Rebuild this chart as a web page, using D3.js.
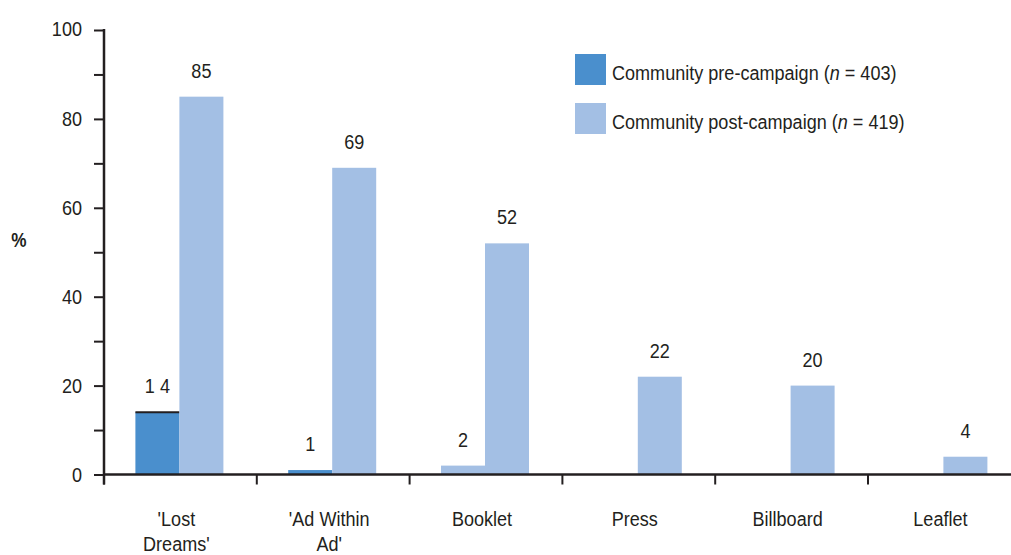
<!DOCTYPE html>
<html>
<head>
<meta charset="utf-8">
<script src="https://cdn.jsdelivr.net/npm/d3@7"></script>
<style>
  body { margin: 0; background: #fff; }
  text { font-family: "Liberation Sans", Arial, sans-serif; fill: #231f20; font-size: 21px; }
</style>
</head>
<body>
<div id="chart"></div>
<script>
// Chart data
var categories = ["'Lost\nDreams'", "'Ad Within\nAd'", "Booklet", "Press", "Billboard", "Leaflet"];
var preValues = [14, 1, 2, null, null, null];
var preLabels = ["1 4", "1", "2", "", "", ""];
var postValues = [85, 69, 52, 22, 20, 4];
var seriesNames = ["Community pre-campaign", "Community post-campaign"];
var seriesN = [403, 419];
var yTicks = [0, 20, 40, 60, 80, 100];

var svgWidth = 1011;
var svgHeight = 555;
var margin = { top: 30, left: 104 };
var bandWidth = 152.8;
var squeeze = 0.86; // condensed look for the typeface

var preColor = "#4a8fcd";
var postColor = "#a3bfe4";
var ink = "#231f20";

var svg = d3.select("#chart")
  .append("svg")
  .attr("width", svgWidth)
  .attr("height", svgHeight);

var x = d3.scaleBand()
  .domain(categories)
  .range([margin.left, margin.left + bandWidth * categories.length]);

var y = d3.scaleLinear()
  .domain([0, 100])
  .range([474.5, margin.top]);

var barW = 44;
function mid(c) { return x(c) + x.bandwidth() / 2 - 1; }
function narrow(px, py) { return `translate(${px}, ${py}) scale(${squeeze}, 1)`; }

// pre-campaign bars
var preData = categories.map((c, i) => ({ c: c, v: preValues[i], label: preLabels[i] }))
  .filter(d => d.v !== null);

svg.selectAll(".pre")
  .data(preData)
  .enter()
  .append("rect")
  .attr("class", "pre")
  .attr("x", d => mid(d.c) - barW)
  .attr("y", d => y(d.v))
  .attr("width", barW)
  .attr("height", d => y(0) - y(d.v))
  // booklet pre bar is drawn in the lighter shade in the original
  .attr("fill", d => d.c === "Booklet" ? postColor : preColor);

// black cap on the first bar
svg.append("line")
  .attr("x1", mid(categories[0]) - barW)
  .attr("x2", mid(categories[0]))
  .attr("y1", y(preValues[0]))
  .attr("y2", y(preValues[0]))
  .attr("stroke", ink)
  .attr("stroke-width", 2);

svg.selectAll(".preLabel")
  .data(preData)
  .enter()
  .append("text")
  .attr("transform", d => narrow(mid(d.c) - barW / 2, y(d.v) - 19))
  .attr("text-anchor", "middle")
  .text(d => d.label);

// post-campaign bars
var postData = categories.map((c, i) => ({ c: c, v: postValues[i] }));

svg.selectAll(".post")
  .data(postData)
  .enter()
  .append("rect")
  .attr("class", "post")
  .attr("x", d => mid(d.c))
  .attr("y", d => y(d.v))
  .attr("width", barW)
  .attr("height", d => y(0) - y(d.v))
  .attr("fill", postColor);

svg.selectAll(".postLabel")
  .data(postData)
  .enter()
  .append("text")
  .attr("transform", d => narrow(mid(d.c) + barW / 2, y(d.v) - 19))
  .attr("text-anchor", "middle")
  .text(d => d.v);

// y axis
var yAxis = svg.append("g")
  .attr("transform", `translate(${margin.left}, 0)`)
  .call(d3.axisLeft(y).tickValues(d3.range(0, 101, 10)).tickSize(10).tickSizeOuter(0)
    .tickFormat(d => yTicks.includes(d) ? d : ""));
yAxis.select(".domain")
  .attr("stroke", ink)
  .attr("stroke-width", 2.5)
  .attr("d", `M0,${y(100) - 1}V${y(0) + 10}`);
yAxis.selectAll(".tick line").attr("stroke", ink).attr("stroke-width", 2);
yAxis.selectAll(".tick text")
  .attr("x", null)
  .attr("dy", null)
  .attr("transform", narrow(-22, 7))
  .style("font-size", "21px")
  .style("font-family", "'Liberation Sans', Arial, sans-serif")
  .attr("fill", ink);
yAxis.selectAll(".tick").filter(d => d === 100).select("text")
  .attr("transform", narrow(-22, 5));

// x axis
var xAxisG = svg.append("g").attr("transform", `translate(0, ${y(0)})`);
xAxisG.append("line")
  .attr("x1", margin.left - 1)
  .attr("x2", svgWidth)
  .attr("stroke", ink)
  .attr("stroke-width", 2.5);
xAxisG.selectAll(".xtick")
  .data(categories)
  .enter()
  .append("line")
  .attr("x1", d => x(d))
  .attr("x2", d => x(d))
  .attr("y1", 0)
  .attr("y2", 10)
  .attr("stroke", ink)
  .attr("stroke-width", 2);

var xLabels = svg.selectAll(".xlabel")
  .data(categories)
  .enter()
  .append("text")
  .attr("text-anchor", "middle")
  .attr("transform", d => narrow(mid(d) - 3, 526));
xLabels.selectAll("tspan")
  .data(d => d.split("\n"))
  .enter()
  .append("tspan")
  .attr("x", 0)
  .attr("dy", (d, i) => i === 0 ? 0 : 25)
  .text(d => d);

// y label
svg.append("text")
  .attr("transform", narrow(19, 247))
  .attr("text-anchor", "middle")
  .style("font-size", "20px")
  .style("font-weight", "bold")
  .text("%");

// legend
var legend = svg.append("g").attr("transform", "translate(575, 54)");
[preColor, postColor].forEach(function (col, i) {
  var row = legend.append("g").attr("transform", `translate(0, ${i * 49})`);
  row.append("rect").attr("width", 31).attr("height", 31).attr("fill", col);
  var t = row.append("text").attr("transform", narrow(37, 25.5));
  t.append("tspan").text(seriesNames[i] + " (");
  t.append("tspan").style("font-style", "italic").text("n");
  t.append("tspan").text(" = " + seriesN[i] + ")");
});
</script>
</body>
</html>
